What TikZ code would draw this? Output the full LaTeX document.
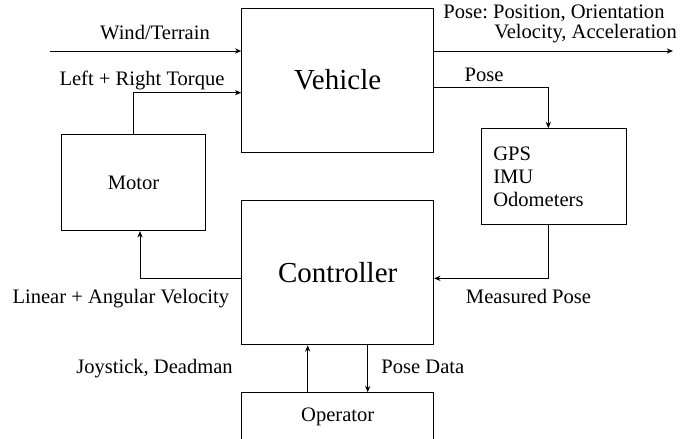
\documentclass[tikz,border=0pt]{standalone}
\usepackage{fontspec}
\setmainfont{Liberation Serif}
\usetikzlibrary{arrows.meta}
\frenchspacing

\begin{document}
\begin{tikzpicture}[
    box/.style={draw, line width=0.5pt, inner sep=0pt, font=\fontsize{11.7}{13.2}\selectfont},
    bigbox/.style={box, minimum width=3.84cm, minimum height=2.88cm, font=\fontsize{16.5}{20}\selectfont},
    smallbox/.style={box, minimum width=2.88cm, minimum height=1.92cm},
    arrow/.style={-{Stealth[length=3.6pt, width=3pt]}, line width=0.5pt},
    lbl/.style={anchor=base, inner sep=0pt, font=\fontsize{11.7}{13.2}\selectfont}
  ]
    \useasboundingbox (0,0) rectangle (13.8,8.78);

    % Blocks
    \node[bigbox] (vehicle) at (6.754,7.18) {Vehicle};
    \node[bigbox] (controller) at (6.754,3.323) {Controller};
    \node[smallbox] (motor) at (2.67,5.126) {Motor};
    \node[smallbox, minimum width=2.886cm, text width=2.422cm, align=left, inner xsep=0.232cm] (sensors) at (11.077,5.25) {GPS\\IMU\\Odometers};
    \node[box, minimum width=3.84cm, minimum height=0.96cm] (operator) at (6.754,0.446) {Operator};

    % Free ends
    \coordinate (windin) at (1.0,7.76);
    \coordinate (poseout) at (13.46,7.76);

    % Arrows
    \draw[arrow] (windin) -- (windin -| vehicle.west);
    \draw[arrow] (motor.north) |- ([yshift=-0.254cm]vehicle.west);
    \draw[arrow] ([yshift=0.58cm]vehicle.east) -- (poseout);
    \draw[arrow] ([yshift=-0.146cm]vehicle.east) -| ([xshift=-0.11cm]sensors.north);
    \draw[arrow] ([xshift=-0.11cm]sensors.south) |- ([yshift=-0.11cm]controller.east);
    \draw[arrow] ([yshift=-0.117cm]controller.west) -| ([xshift=0.13cm]motor.south);
    \draw[arrow] ([xshift=-0.6cm]operator.north) -- ([xshift=-0.6cm]controller.south);
    \draw[arrow] ([xshift=0.6cm]controller.south) -- ([xshift=0.6cm]operator.north);

    % Labels
    \node[lbl] (windlbl) at (3.1,7.99) {Wind/Terrain};
    \node[lbl] (torquelbl) at (2.84,7.07) {Left + Right Torque};
    \node[lbl] (poselbl) at (11.08,8.41) {Pose: Position, Orientation};
    \node[lbl] (motionlbl) at (11.71,8.0) {Velocity, Acceleration};
    \node[lbl] (sensorlbl) at (9.68,7.15) {Pose};
    \node[lbl] (measlbl) at (10.57,2.71) {Measured Pose};
    \node[lbl] (cmdlbl) at (2.416,2.714) {Linear + Angular Velocity};
    \node[lbl] (joylbl) at (3.09,1.31) {Joystick, Deadman};
    \node[lbl] (datalbl) at (8.457,1.31) {Pose Data};
\end{tikzpicture}
\end{document}
